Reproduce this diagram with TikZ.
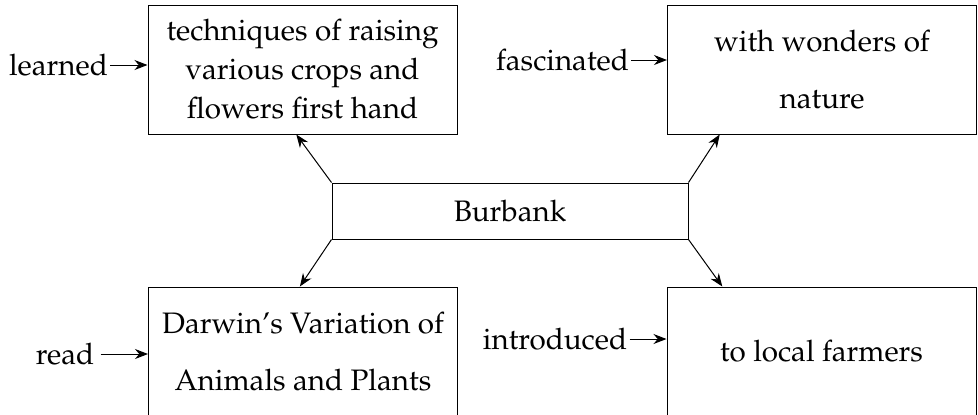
\documentclass[tikz,border=0pt]{standalone}
\usepackage[T1]{fontenc}
\usepackage{mathpazo}
\usetikzlibrary{arrows.meta}
\usetikzlibrary{calc}

\begin{document}
\begin{tikzpicture}[
x=0.5pt, y=-0.5pt,
line width=0.5pt,
>={Stealth[length=6.5pt,width=5pt]},
every node/.style={
    font=\fontsize{14.8}{19.5}\selectfont,
    inner sep=1pt
},
box/.style={
    draw,
    minimum width=154.5pt,
    minimum height=64.5pt,
    align=center
},
wide/.style={
    font=\fontsize{14.8}{28.5}\selectfont
}
]
\useasboundingbox (0,0) rectangle (978,414);

\node[box] (crops) at (302.5,69.5) {techniques of raising\\ various crops and\\ flowers first hand};
\node[box, wide] (nature) at (822,69.5) {with wonders of\\ nature};
\node[box, minimum width=178pt, minimum height=28pt] (burbank) at (510,211) {Burbank};
\node[box, wide] (darwin) at (303,351.5) {Darwin's Variation of\\ Animals and Plants};
\node[box] (farmers) at (821.5,351.5) {to local farmers};

\node (learned) at (58.5,65) {learned};
\node (fascinated) at (562.5,60) {fascinated};
\node (read) at (65,354) {read};
\node (introduced) at (555,339) {introduced};

\draw[->] (learned.east) -- (crops.west |- learned.east);
\draw[->] (fascinated.east) -- (nature.west |- fascinated.east);
\draw[->] ([xshift=2pt]read.east) -- (darwin.west |- read.east);
\draw[->] (introduced.east) -- (farmers.west |- introduced.east);

\draw[->] (burbank.north west) -- ($(crops.south west)!0.48!(crops.south east)$);
\draw[->] (burbank.north east) -- ($(nature.south west)!0.17!(nature.south east)$);
\draw[->] (burbank.south west) -- ($(darwin.north west)!0.49!(darwin.north east)$);
\draw[->] (burbank.south east) -- ($(farmers.north west)!0.18!(farmers.north east)$);
\end{tikzpicture}
\end{document}
